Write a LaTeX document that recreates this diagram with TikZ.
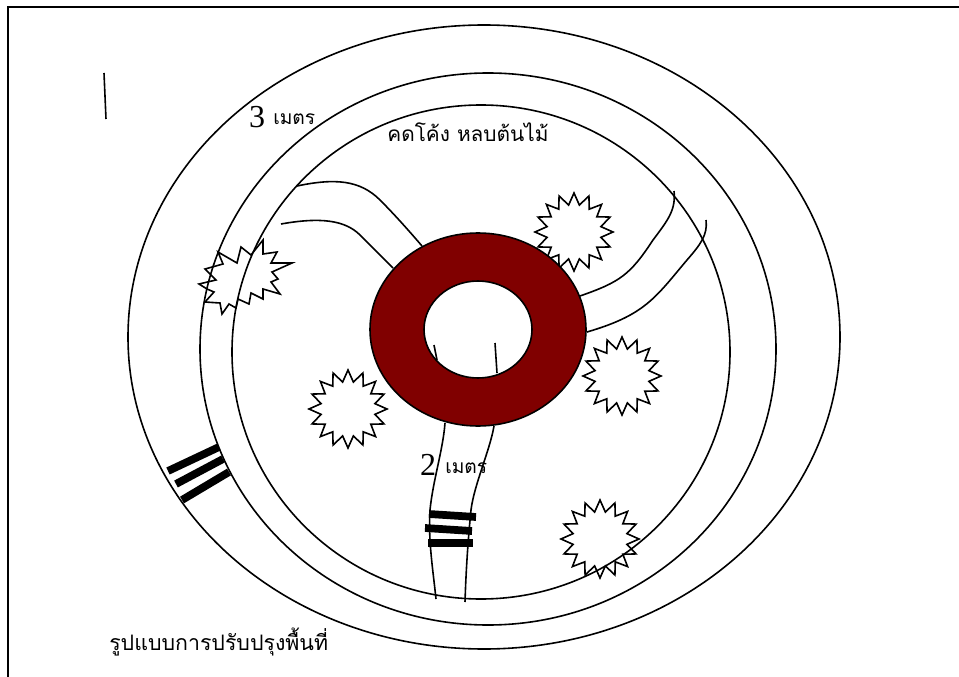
\documentclass[tikz,border=0pt]{standalone}
\usepackage{fontspec}
\setmainfont{Liberation Serif}
\newfontfamily\thaifont[Script=Thai]{Loma}
\usetikzlibrary{shapes.geometric}
\definecolor{ringred}{RGB}{128,0,0}
\tikzset{
  line/.style={line width=1.2pt},
  tree/.style={draw, line width=1.2pt, shape=star, star points=16, star point ratio=1.42,
    minimum size=58.5pt, inner sep=0pt},
  bar/.style={line width=5.8pt},
  digit/.style={font=\fontsize{24}{26}\selectfont, inner sep=0pt},
  thai/.style={font=\thaifont\fontsize{15.6}{18}\selectfont, inner sep=0pt},
  thaismall/.style={font=\thaifont\fontsize{14.4}{18}\selectfont, inner sep=0pt},
}
\begin{document}
\begin{tikzpicture}[x=0.75pt, y=-0.75pt]
\useasboundingbox (0,0) rectangle (959,677);
%% all coordinates in pixels of the sheet, y downwards

%% ---- Frame ----
\draw[line] (8,677) -- (8,7) -- (959,7);
\draw[line] (104,73) -- (106,119);

%% ---- Trees ----
\foreach \x/\y/\nm in {574/232/a, 622/376/b, 348/409/c, 600/539/d} {
  \node[tree] (tree\nm) at (\x,\y) {};
}
\draw[line] (218,252) -- (237,263) -- (241,247) -- (251,255) -- (263,240) -- (263,254)
  -- (277,252) -- (271,263) -- (292,263) -- (272,272) -- (278,279) -- (271,282)
  -- (280,294) -- (263,289) -- (263,299) -- (251,293) -- (249,304) -- (238,299)
  -- (236,308) -- (229,304) -- (222,314) -- (220,303) -- (205,302) -- (214,292)
  -- (207,289) -- (199,284) -- (216,280) -- (205,269) -- (223,264) -- cycle;

%% ---- Rings ----
\draw[line] (484,337) ellipse (356 and 312);
\draw[line] (488,349) ellipse (288 and 276);
\draw[line] (481,352) ellipse (249 and 247);

%% ---- Paths ----
\draw[line] (297,186) .. controls (335,178) and (360,180) .. (380,200) .. controls (395,215) and (410,232) .. (422,246);
\draw[line] (281,224) .. controls (320,217) and (345,220) .. (360,235) -- (393,268);
\draw[line] (674,191) .. controls (676,210) and (668,220) .. (653,240) .. controls (630,275) and (620,282) .. (580,296);
\draw[line] (706,220) .. controls (708,235) and (700,245) .. (687,260) .. controls (655,298) and (645,315) .. (587,332);
\draw[line] (445,423) .. controls (443,450) and (433,480) .. (430,510) .. controls (428,540) and (433,570) .. (436,599);
\draw[line] (494,426) .. controls (490,450) and (474,485) .. (471,510) .. controls (468,540) and (466,570) .. (465,602);

%% ---- Ring ----
\fill[ringred, even odd rule] (478,329.5) ellipse (108 and 96.5) (478,329.5) ellipse (54 and 48.5);
\draw[line] (478,329.5) ellipse (108 and 96.5);
\draw[line] (478,329.5) ellipse (54 and 48.5);
\draw[line] (434,345) -- (437,360);
\draw[line] (495,343) -- (497,373);

%% ---- Bars ----
\foreach \xa/\ya/\xb/\yb in {429/514/476/517, 425/528/472/531, 428/543/473/543,
    168/471/219/447, 176/484/223/459, 182/500/229/472} {
  \draw[bar] (\xa,\ya) -- (\xb,\yb);
}

%% ---- Labels ----
\node[digit] (three) at (257,117) {3};
\node[thaismall, anchor=west] (threelbl) at (273,119) {เมตร};
\node[thai] (bendlbl) at (468,132) {คดโค้ง หลบต้นไม้};
\node[digit] (two) at (428,465) {2};
\node[thaismall, anchor=west] (twolbl) at (445,468) {เมตร};
\node[thai, font=\thaifont\fontsize{16}{18}\selectfont, anchor=west] (titlelbl) at (109,642) {รูปแบบการปรับปรุงพื้นที่};
\end{tikzpicture}
\end{document}
